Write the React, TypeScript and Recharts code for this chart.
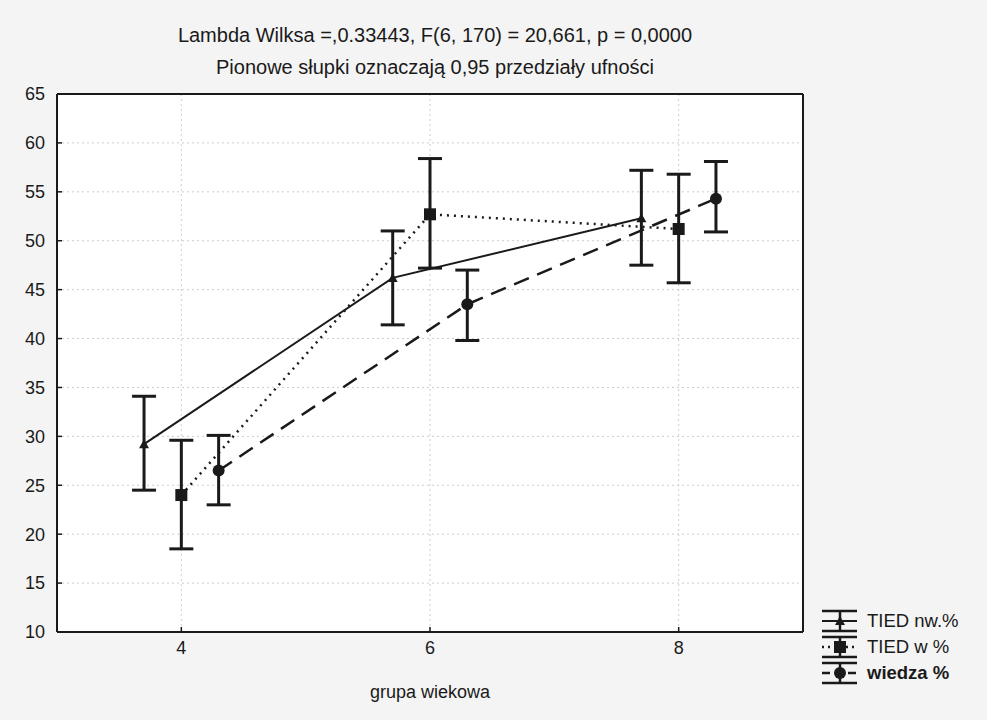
import React from 'react'
import { LineChart, Line, XAxis, YAxis, CartesianGrid, ErrorBar, Legend } from 'recharts'

// x positions (groups 4, 6, 8 with small offsets per series)
const xNw = [3.7, 5.7, 7.7]
const xW = [4, 6, 8]
const xWiedza = [4.3, 6.3, 8.3]

// TIED nw.%
const meanNw = [29.2, 46.2, 52.3]
const lowNw = [24.5, 41.4, 47.5]
const highNw = [34.1, 51.0, 57.2]

// TIED w %
const meanW = [24.0, 52.7, 51.2]
const lowW = [18.5, 47.2, 45.7]
const highW = [29.6, 58.4, 56.8]

// wiedza %
const meanWiedza = [26.5, 43.5, 54.3]
const lowWiedza = [23.0, 39.8, 50.9]
const highWiedza = [30.1, 47.0, 58.1]

const xTicks = [4, 6, 8]
const yTicks = [10, 15, 20, 25, 30, 35, 40, 45, 50, 55, 60, 65]

const seriesNames = ['TIED nw.%', 'TIED w %', 'wiedza %']

const FONT = '"Liberation Sans", Arial, sans-serif'
const INK = '#1a1a1a'

const build = (xs: number[], m: number[], lo: number[], hi: number[]) =>
  xs.map((x, i) => ({ x, y: m[i], err: [m[i] - lo[i], hi[i] - m[i]] }))

const nwData = build(xNw, meanNw, lowNw, highNw)
const wData = build(xW, meanW, lowW, highW)
const wiedzaData = build(xWiedza, meanWiedza, lowWiedza, highWiedza)

const Triangle = (props: any) => {
  const { cx, cy } = props
  return <polygon points={`${cx},${cy - 5} ${cx - 5},${cy + 4} ${cx + 5},${cy + 4}`} fill={INK} />
}
const Square = (props: any) => {
  const { cx, cy } = props
  return <rect x={cx - 6} y={cy - 6} width={12} height={12} fill={INK} />
}
const Circle = (props: any) => {
  const { cx, cy } = props
  return <circle cx={cx} cy={cy} r={6} fill={INK} />
}

const LegendBox = () => {
  const rows = [
    { dash: undefined, marker: 'tri' },
    { dash: '2 4', marker: 'sq' },
    { dash: '8 5', marker: 'ci' },
  ]
  return (
    <div style={{ position: 'relative', width: 160, height: 96 }}>
      <svg width={40} height={96} style={{ position: 'absolute', left: 0, top: 0 }}>
        {rows.map((r, i) => {
          const cy = 13 + i * 26
          return (
            <g key={i} stroke={INK}>
              <line x1={3} x2={38} y1={cy - 10} y2={cy - 10} strokeWidth={2.5} />
              <line x1={3} x2={38} y1={cy + 10} y2={cy + 10} strokeWidth={2.5} />
              <line x1={21} x2={21} y1={cy - 10} y2={cy + 10} strokeWidth={2.5} />
              <line x1={3} x2={38} y1={cy} y2={cy} strokeWidth={r.dash ? 2.5 : 2} strokeDasharray={r.dash} />
              {r.marker === 'tri' && <polygon points={`21,${cy - 5} 16,${cy + 4} 26,${cy + 4}`} fill={INK} stroke="none" />}
              {r.marker === 'sq' && <rect x={15} y={cy - 6} width={12} height={12} fill={INK} stroke="none" />}
              {r.marker === 'ci' && <circle cx={21} cy={cy} r={6} fill={INK} stroke="none" />}
            </g>
          )
        })}
      </svg>
      {seriesNames.map((n, i) => (
        <div
          key={n}
          style={{
            position: 'absolute',
            left: 48,
            top: 13 + i * 26 - 11,
            fontSize: 18.5,
            lineHeight: '22px',
            fontFamily: FONT,
            color: INK,
            fontWeight: i === 2 ? 'bold' : 'normal',
            whiteSpace: 'nowrap',
          }}
        >
          {n}
        </div>
      ))}
    </div>
  )
}

export default function App() {
  const tickStyle = { fontSize: 18, fill: INK, fontFamily: FONT }
  return (
    <div style={{ position: 'absolute', left: 0, top: 0, width: 987, height: 720, background: '#f4f4f4' }}>
      <div
        style={{
          position: 'absolute', left: 0, top: 23, width: 870, textAlign: 'center',
          fontSize: 20, lineHeight: '24px', fontFamily: FONT, color: INK,
        }}
      >
        Lambda Wilksa =,0.33443, F(6, 170) = 20,661, p = 0,0000
      </div>
      <div
        style={{
          position: 'absolute', left: 0, top: 55, width: 870, textAlign: 'center',
          fontSize: 20, lineHeight: '24px', fontFamily: FONT, color: INK,
        }}
      >
        Pionowe słupki oznaczają 0,95 przedziały ufności
      </div>
      <LineChart
        width={987}
        height={720}
        margin={{ top: 93, right: 183, bottom: 48, left: 0 }}
        style={{ position: 'absolute', left: 0, top: 0 }}
      >
        <CartesianGrid stroke="#cdcdcd" strokeDasharray="2 3" fill="#ffffff" />
        <XAxis
          dataKey="x"
          type="number"
          domain={[3, 9]}
          ticks={xTicks}
          allowDuplicatedCategory={false}
          height={40}
          tick={tickStyle}
          tickSize={-5}
          tickMargin={14}
          axisLine={{ stroke: INK, strokeWidth: 2 }}
          tickLine={{ stroke: INK, strokeWidth: 1.5 }}
          label={{ value: 'grupa wiekowa', position: 'insideBottom', offset: -26, style: { fontSize: 18, fill: INK, fontFamily: FONT } }}
        />
        <XAxis
          xAxisId="top"
          orientation="top"
          type="number"
          domain={[3, 9]}
          ticks={xTicks}
          height={1}
          tickFormatter={() => ''}
          tickSize={-5}
          axisLine={{ stroke: INK, strokeWidth: 2 }}
          tickLine={{ stroke: INK, strokeWidth: 1.5 }}
        />
        <YAxis
          type="number"
          domain={[10, 65]}
          ticks={yTicks}
          width={57}
          tick={tickStyle}
          tickSize={-5}
          tickMargin={17}
          axisLine={{ stroke: INK, strokeWidth: 2 }}
          tickLine={{ stroke: INK, strokeWidth: 1.5 }}
        />
        <YAxis
          yAxisId="right"
          orientation="right"
          type="number"
          domain={[10, 65]}
          ticks={yTicks}
          width={1}
          tickFormatter={() => ''}
          tickSize={-5}
          axisLine={{ stroke: INK, strokeWidth: 2 }}
          tickLine={{ stroke: INK, strokeWidth: 1.5 }}
        />
        <Line
          data={nwData}
          dataKey="y"
          name={seriesNames[0]}
          type="linear"
          stroke={INK}
          strokeWidth={2}
          dot={<Triangle />}
          isAnimationActive={false}
        >
          <ErrorBar dataKey="err" width={12} strokeWidth={3} stroke={INK} direction="y" />
        </Line>
        <Line
          data={wData}
          dataKey="y"
          name={seriesNames[1]}
          type="linear"
          stroke={INK}
          strokeWidth={2.5}
          strokeDasharray="2 5"
          dot={<Square />}
          isAnimationActive={false}
        >
          <ErrorBar dataKey="err" width={12} strokeWidth={3} stroke={INK} direction="y" />
        </Line>
        <Line
          data={wiedzaData}
          dataKey="y"
          name={seriesNames[2]}
          type="linear"
          stroke={INK}
          strokeWidth={2.5}
          strokeDasharray="16 9"
          dot={<Circle />}
          isAnimationActive={false}
        >
          <ErrorBar dataKey="err" width={12} strokeWidth={3} stroke={INK} direction="y" />
        </Line>
        <Legend
          layout="vertical"
          align="center"
          verticalAlign="middle"
          content={<LegendBox />}
          wrapperStyle={{ position: 'absolute', left: 819, top: 608, width: 160, height: 96 }}
        />
      </LineChart>
    </div>
  )
}
